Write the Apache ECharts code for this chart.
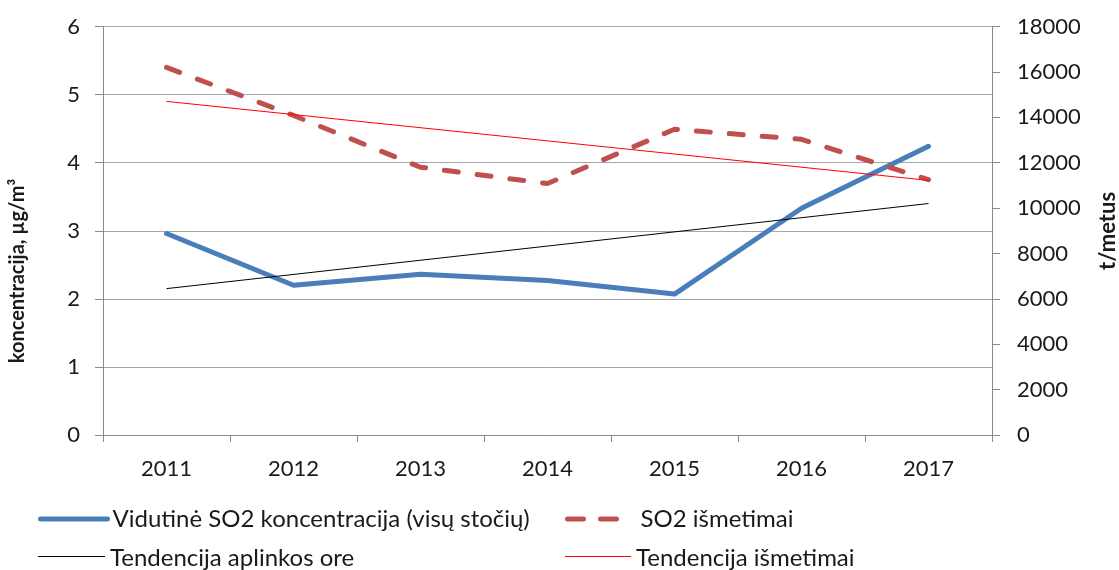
<!DOCTYPE html>
<html>
<head>
<meta charset="utf-8">
<script src="https://cdn.jsdelivr.net/npm/echarts@6/dist/echarts.min.js"></script>
<style>
  html, body { margin: 0; padding: 0; background: #fff; }
  #chart { width: 1119px; height: 570px; }
</style>
</head>
<body>
<div id="chart"></div>
<script>
// Years on the category axis
const years = ['2011', '2012', '2013', '2014', '2015', '2016', '2017'];
// Average SO2 concentration across all stations, µg/m³ (left axis)
const concentration = [2.96, 2.20, 2.36, 2.27, 2.07, 3.33, 4.24];
// SO2 emissions, t/year (right axis)
const emissions = [16200, 14080, 11800, 11080, 13470, 13030, 11250];
// Linear trend endpoints (first and last year)
const concentrationTrend = [2.15, null, null, null, null, null, 3.40];
const emissionsTrend = [14700, null, null, null, null, null, 11220];
// Axis ranges
const leftAxis = { min: 0, max: 6, interval: 1 };
const rightAxis = { min: 0, max: 18000, interval: 2000 };

const names = {
  conc: 'Vidutinė SO2 koncentracija (visų stočių)',
  emis: 'SO2 išmetimai',
  concTrend: 'Tendencija aplinkos ore',
  emisTrend: 'Tendencija išmetimai'
};

const colors = {
  conc: '#4a7ebb',
  emis: '#c0504d',
  concTrend: '#000000',
  emisTrend: '#ff0000'
};

const FONT = 'Lato';
const axisGray = '#898989';
const textColor = '#1a1a1a';

const legendBase = {
  orient: 'horizontal',
  padding: 0,
  itemGap: 0,
  itemHeight: 20,
  itemStyle: { color: 'rgba(0,0,0,0)', borderColor: 'rgba(0,0,0,0)', borderWidth: 0 },
  textStyle: { fontFamily: FONT, fontSize: 24, color: textColor, lineHeight: 20 },
  selectedMode: false
};

// hairline trend entries: blank icon box, the 1px key line is drawn as a graphic
const trendLegend = Object.assign({}, legendBase, { icon: 'rect' });

function legendKeyLine(x1, x2, y, color) {
  return {
    type: 'line', silent: true,
    shape: { x1: x1, y1: y, x2: x2, y2: y },
    style: { stroke: color, lineWidth: 1 }
  };
}

const chart = echarts.init(document.getElementById('chart'), null, { renderer: 'canvas' });

chart.setOption({
  animation: false,
  backgroundColor: '#ffffff',
  grid: { left: 103, right: 127, top: 26.5, bottom: 135, containLabel: false },
  xAxis: {
    type: 'category',
    data: years,
    boundaryGap: true,
    axisLine: { lineStyle: { color: axisGray, width: 1 } },
    axisTick: { show: true, length: 7, interval: 0, lineStyle: { color: axisGray } },
    axisLabel: { fontFamily: FONT, fontSize: 22, color: textColor, margin: 23, interval: 0 },
    splitLine: { show: false }
  },
  yAxis: [
    {
      type: 'value',
      position: 'left',
      min: leftAxis.min, max: leftAxis.max, interval: leftAxis.interval,
      axisLine: { show: true, lineStyle: { color: axisGray, width: 1 } },
      axisTick: { show: true, length: 8, lineStyle: { color: axisGray } },
      axisLabel: { fontFamily: FONT, fontSize: 22, color: textColor, margin: 23 },
      splitLine: { show: true, lineStyle: { color: '#a6a6a6', width: 1 } }
    },
    {
      type: 'value',
      position: 'right',
      min: rightAxis.min, max: rightAxis.max, interval: rightAxis.interval,
      axisLine: { show: true, lineStyle: { color: axisGray, width: 1 } },
      axisTick: { show: true, length: 8, lineStyle: { color: axisGray } },
      axisLabel: {
        fontFamily: FONT, fontSize: 22, color: textColor, margin: 25,
        formatter: function (v) { return String(v); }
      },
      splitLine: { show: false }
    }
  ],
  legend: [
    Object.assign({}, legendBase, {
      left: 38, top: 507, itemWidth: 67, data: [names.conc],
      lineStyle: { color: colors.conc, width: 5, cap: 'round', opacity: 1 }
    }),
    Object.assign({}, legendBase, {
      left: 565, top: 507, itemWidth: 68, data: [names.emis],
      lineStyle: { color: colors.emis, width: 5, type: [16, 17, 16, 40], cap: 'round', opacity: 1 }
    }),
    Object.assign({}, trendLegend, {
      left: 38, top: 546, itemWidth: 67, data: [names.concTrend]
    }),
    Object.assign({}, trendLegend, {
      left: 565, top: 546, itemWidth: 66, data: [names.emisTrend]
    })
  ],
  graphic: [
    legendKeyLine(38, 105, 556.5, colors.concTrend),
    legendKeyLine(565, 631, 556.5, colors.emisTrend),
    {
      type: 'text', x: 18, y: 271, rotation: Math.PI / 2,
      style: {
        text: 'koncentracija, µg/m³', fill: textColor,
        font: 'bold 20px ' + FONT, textAlign: 'center', textVerticalAlign: 'middle'
      }
    },
    {
      type: 'text', x: 1108, y: 231, rotation: Math.PI / 2,
      style: {
        text: 't/metus', fill: textColor,
        font: 'bold 22px ' + FONT, textAlign: 'center', textVerticalAlign: 'middle'
      }
    }
  ],
  series: [
    {
      name: names.conc, type: 'line', yAxisIndex: 0, data: concentration,
      symbol: 'none', showSymbol: false, z: 2,
      lineStyle: { color: colors.conc, width: 5, cap: 'round', join: 'round' },
      itemStyle: { color: colors.conc }
    },
    {
      name: names.emis, type: 'line', yAxisIndex: 1, data: emissions,
      symbol: 'none', showSymbol: false, z: 2,
      lineStyle: { color: colors.emis, width: 5, type: [14, 19], cap: 'round', join: 'round' },
      itemStyle: { color: colors.emis }
    },
    {
      name: names.concTrend, type: 'line', yAxisIndex: 0, data: concentrationTrend,
      symbol: 'none', showSymbol: false, connectNulls: true, z: 3,
      lineStyle: { color: colors.concTrend, width: 1 },
      itemStyle: { color: colors.concTrend }
    },
    {
      name: names.emisTrend, type: 'line', yAxisIndex: 1, data: emissionsTrend,
      symbol: 'none', showSymbol: false, connectNulls: true, z: 3,
      lineStyle: { color: colors.emisTrend, width: 1 },
      itemStyle: { color: colors.emisTrend }
    }
  ]
});
</script>
</body>
</html>
